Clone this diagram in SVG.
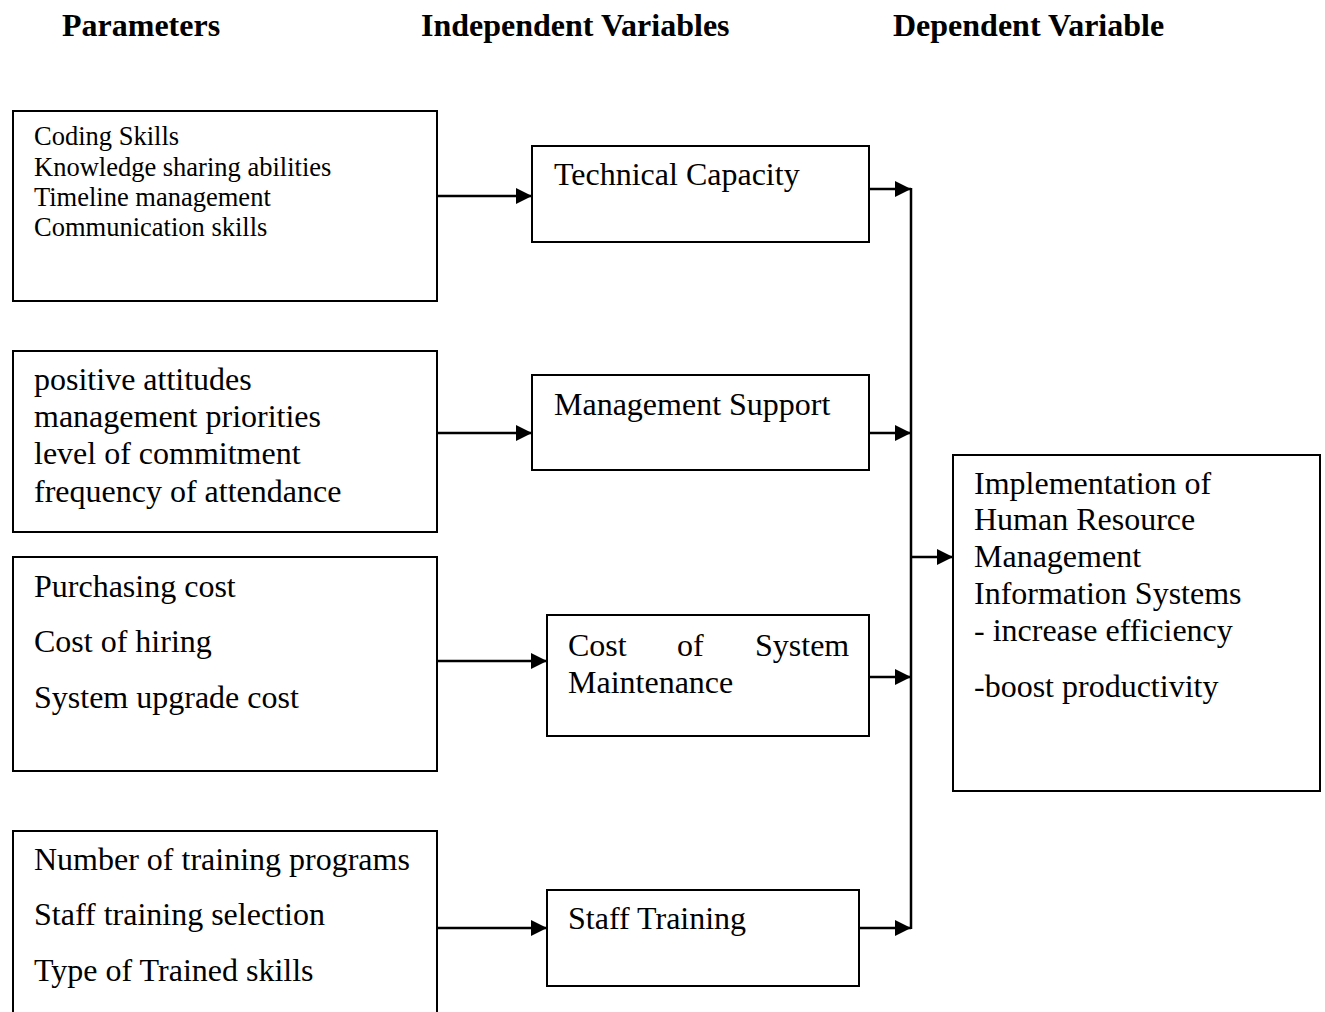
<svg xmlns="http://www.w3.org/2000/svg" width="1325" height="1012" viewBox="0 0 1325 1012">
<style>
.box{fill:#fff;stroke:#000;stroke-width:2}
.t{font-family:"Liberation Serif","Times New Roman",serif;font-size:32px;fill:#000}
.s{font-size:26.5px}
.h{font-weight:bold;font-size:32px}
.c{stroke:#000;stroke-width:2.5;fill:none}
</style>
<defs>
<marker id="ah2" markerWidth="16" markerHeight="16" refX="16" refY="8" orient="auto" markerUnits="userSpaceOnUse" viewBox="0 0 16 16">
<path d="M0,0 L16,8 L0,16 z" fill="#000"/>
</marker>
</defs>
<rect width="1325" height="1012" fill="#fff"/>
<g id="headers">
<text class="t h" x="62" y="36">Parameters</text>
<text class="t h" x="421" y="36">Independent Variables</text>
<text class="t h" x="893" y="36">Dependent Variable</text>
</g>
<g id="p1">
<rect class="box" x="13" y="111" width="424" height="190"/>
<text class="t s" x="34" y="145">Coding Skills</text>
<text class="t s" x="34" y="176">Knowledge sharing abilities</text>
<text class="t s" x="34" y="206">Timeline management</text>
<text class="t s" x="34" y="236">Communication skills</text>
</g>
<g id="p2">
<rect class="box" x="13" y="351" width="424" height="181"/>
<text class="t" x="34" y="390">positive attitudes</text>
<text class="t" x="34" y="427">management priorities</text>
<text class="t" x="34" y="464">level of commitment</text>
<text class="t" x="34" y="502">frequency of attendance</text>
</g>
<g id="p3">
<rect class="box" x="13" y="557" width="424" height="214"/>
<text class="t" x="34" y="597">Purchasing cost</text>
<text class="t" x="34" y="652">Cost of hiring</text>
<text class="t" x="34" y="708">System upgrade cost</text>
</g>
<g id="p4">
<rect class="box" x="13" y="831" width="424" height="200"/>
<text class="t" x="34" y="870">Number of training programs</text>
<text class="t" x="34" y="925">Staff training selection</text>
<text class="t" x="34" y="981">Type of Trained skills</text>
</g>
<g id="tc">
<rect class="box" x="532" y="146" width="337" height="96"/>
<text class="t" x="554" y="185">Technical Capacity</text>
</g>
<g id="ms">
<rect class="box" x="532" y="375" width="337" height="95"/>
<text class="t" x="554" y="415">Management Support</text>
</g>
<g id="csm">
<rect class="box" x="547" y="615" width="322" height="121"/>
<text class="t" x="568" y="656">Cost</text>
<text class="t" x="677" y="656">of</text>
<text class="t" x="755" y="656">System</text>
<text class="t" x="568" y="693">Maintenance</text>
</g>
<g id="st">
<rect class="box" x="547" y="890" width="312" height="96"/>
<text class="t" x="568" y="929">Staff Training</text>
</g>
<g id="dv">
<rect class="box" x="953" y="455" width="367" height="336"/>
<text class="t" x="974" y="494">Implementation of</text>
<text class="t" x="974" y="530">Human Resource</text>
<text class="t" x="974" y="567">Management</text>
<text class="t" x="974" y="604">Information Systems</text>
<text class="t" x="974" y="641">- increase efficiency</text>
<text class="t" x="974" y="697">-boost productivity</text>
</g>
<g id="connectors">
<line class="c" x1="437" y1="196" x2="532" y2="196" marker-end="url(#ah2)"/>
<line class="c" x1="437" y1="433" x2="532" y2="433" marker-end="url(#ah2)"/>
<line class="c" x1="437" y1="661" x2="547" y2="661" marker-end="url(#ah2)"/>
<line class="c" x1="437" y1="928" x2="547" y2="928" marker-end="url(#ah2)"/>
<line class="c" x1="869" y1="189" x2="911" y2="189" marker-end="url(#ah2)"/>
<line class="c" x1="869" y1="433" x2="911" y2="433" marker-end="url(#ah2)"/>
<line class="c" x1="869" y1="677" x2="911" y2="677" marker-end="url(#ah2)"/>
<line class="c" x1="859" y1="928" x2="911" y2="928" marker-end="url(#ah2)"/>
<line class="c" x1="911" y1="188" x2="911" y2="929"/>
<line class="c" x1="911" y1="557" x2="953" y2="557" marker-end="url(#ah2)"/>
</g>
</svg>
